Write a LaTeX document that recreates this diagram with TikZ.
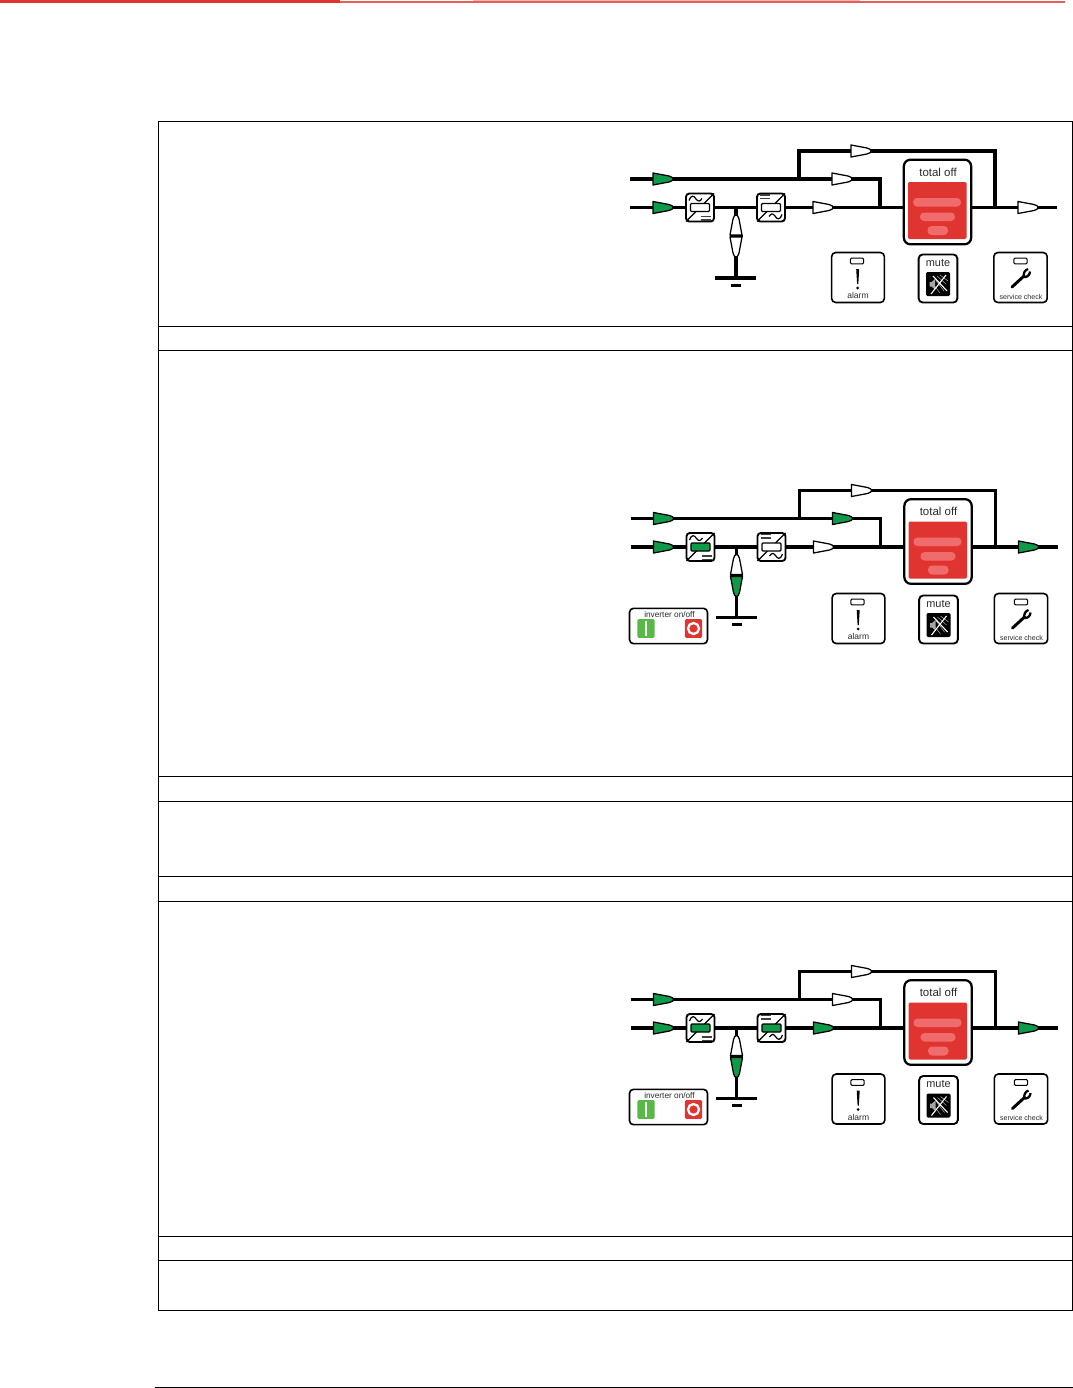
\documentclass[tikz,border=0pt]{standalone}
\usepackage{fontspec}
\setmainfont{Liberation Sans}
\usetikzlibrary{positioning, arrows.meta}
\definecolor{upsgreen}{HTML}{0E9A48}
\definecolor{upsred}{HTML}{E03431}
\definecolor{upspale}{HTML}{F06C6C}
\definecolor{swgreen}{HTML}{58B947}
\definecolor{upstext}{HTML}{2B2B2B}
\tikzset{
  wire/.style={line width=2.5pt, line join=miter},
  panelline/.style={line width=0.7pt, black},
  convbox/.style={draw, fill=white, rounded corners=2.5pt, line width=1.4pt, minimum size=21pt, inner sep=0pt},
  keybox/.style={draw, fill=white, rounded corners=3pt, line width=1.2pt, inner sep=0pt},
  ledbox/.style={draw, fill=white, rounded corners=0.8pt, line width=0.8pt, minimum width=10pt, minimum height=4.2pt, inner sep=0pt},
  swbtn/.style={rounded corners=1pt, minimum width=13pt, minimum height=14pt, inner sep=0pt},
  keytext/.style={inner sep=0pt, text=upstext},
  flowtip/.pic={
    \draw[line width=0.95pt, fill=#1, line join=round] (-10,-6) -- (-10,6) -- (6,3) .. controls (9,2.4) and (10,1) .. (10,0) .. controls (10,-1) and (9,-2.4) .. (6,-3) -- cycle;
  },
  convmarks/.pic={
    \draw[line width=1pt] (-14,14) -- (14,-14);
    \draw[line width=0.9pt, fill=#1, rounded corners=0.8pt] (-9.5,-4) rectangle (9.5,4);
    \draw[line width=0.9pt] (-11,-7) .. controls (-9,-13) and (-6,-12) .. (-4,-8.5) .. controls (-2,-5.5) and (0,-6) .. (2,-9);
    \draw[line width=1.1pt, black!75] (1,9) -- (11,9) (1,12.3) -- (11,12.3);
  },
}
\begin{document}
\begin{tikzpicture}[x=0.75pt, y=-0.75pt]
  \useasboundingbox (0,0) rectangle (1073,1388);

  % Top band
  \draw[upsred, line width=2.2pt] (0,1.6) -- (340,1.6);
  \draw[upsred!80, line width=1.1pt] (340,2.2) -- (1065,2.2);
  \draw[upsred!35, line width=0.8pt] (473,0.7) -- (860,0.7);

  % Table frame
  \draw[panelline] (158,121) rectangle (1072,1310);
  \foreach \ly in {326,350,776,801,876,901,1236,1260}
    \draw[panelline] (158,\ly) -- (1072,\ly);
  \draw[panelline] (155,1387) -- (1073,1387);

  % Diagrams: shift / name / tips and converters / inverter switch / key row shift
  \foreach \dx/\dy/\nm/\cBypass/\cMains/\cRect/\cInv/\cAfter/\cOut/\cBatt/\sw/\kd in {
    0/0/one/white/white/white/white/white/white/white/0/0,
    0.5/339.5/two/white/upsgreen/upsgreen/white/white/upsgreen/upsgreen/1/1.5,
    0.5/820.5/three/white/white/upsgreen/upsgreen/upsgreen/upsgreen/upsgreen/1/1}
  {
  \begin{scope}[shift={(\dx,\dy)}]
    % Named points on the lines
    \coordinate (\nm-inA) at (630,179);
    \coordinate (\nm-inB) at (630,207.5);
    \coordinate (\nm-tee) at (799,179);
    \coordinate (\nm-over) at (799,151);
    \coordinate (\nm-overend) at (995,151);
    \coordinate (\nm-rejoin) at (995,207.5);
    \coordinate (\nm-mains) at (880,179);
    \coordinate (\nm-mainsend) at (880,207.5);
    \coordinate (\nm-out) at (1057,207.5);
    \coordinate (\nm-branch) at (736,207.5);
    \coordinate (\nm-earth) at (736,278);
    \coordinate (\nm-earthL) at (715,278);
    \coordinate (\nm-earthR) at (756,278);

    % Boxes
    \node[convbox] (\nm-rect) at (700,207.5) {};
    \node[convbox] (\nm-inv) at (771,207.5) {};
    \node[keybox, line width=1.7pt, rounded corners=5pt, minimum width=50.5pt, minimum height=63.5pt] (\nm-off) at (937.5,202) {};

    % Lines
    \draw[wire] (\nm-inA) -- (\nm-mains) -- (\nm-mainsend);
    \draw[wire] (\nm-tee) -- (\nm-over) -- (\nm-overend) -- (\nm-rejoin);
    \draw[wire] (\nm-inB) -- (\nm-rect);
    \draw[wire] (\nm-rect) -- (\nm-inv);
    \draw[wire] (\nm-inv) -- (\nm-off.west |- \nm-inv);
    \draw[wire] (\nm-off.east |- \nm-out) -- (\nm-out);
    \draw[wire] (\nm-branch) -- (\nm-earth);
    \draw[wire] (\nm-earthL) -- (\nm-earthR);
    \fill (731,283.5) rectangle (741,286.5);

    % Converter faces
    \pic at (\nm-rect) {convmarks=\cRect};
    \pic[rotate=180] at (\nm-inv) {convmarks=\cInv};

    % Flow tips
    \pic at (663,179) {flowtip=upsgreen};
    \pic at (663,207.5) {flowtip=upsgreen};
    \pic at (861,151) {flowtip=\cBypass};
    \pic at (842,179) {flowtip=\cMains};
    \pic at (823,207.5) {flowtip=\cAfter};
    \pic at (1028,207.5) {flowtip=\cOut};
    \pic[rotate=90] at (736,225) {flowtip=white};
    \pic[rotate=-90] at (736,247) {flowtip=\cBatt};
    \draw[line width=1pt] (729.5,236) -- (742.5,236);

    % Total off
    \node[keytext, font=\fontsize{8.6}{10}\selectfont] (\nm-offtext) at (938,172) {total off};
    \fill[upsred, rounded corners=1pt] (908,182) rectangle (966.5,239);
    \fill[upspale, rounded corners=3pt] (913,198) rectangle (961,206.5);
    \fill[upspale, rounded corners=3pt] (920,212.5) rectangle (955,221);
    \fill[upspale, rounded corners=3pt] (927.5,226) rectangle (948,235);

    \begin{scope}[yshift=-\kd*0.75pt]
    % Alarm
    \node[keybox, minimum width=39.5pt, minimum height=37.5pt] (\nm-alarm) at (858,277.5) {};
    \node[ledbox] (\nm-alarmled) at (857,261) {};
    \fill (856.2,269) -- (859.2,269) -- (858.3,284) -- (857.1,284) -- cycle;
    \fill (857.7,288) circle (1.5);
    \node[keytext, font=\fontsize{6.4}{8}\selectfont] (\nm-alarmtext) at (858,295.5) {alarm};

    % Mute
    \node[keybox, line width=1.4pt, minimum width=29pt, minimum height=36pt] (\nm-mute) at (938,278.5) {};
    \node[keytext, font=\fontsize{8.2}{10}\selectfont] (\nm-mutetext) at (938,263) {mute};
    \fill[black, rounded corners=1pt] (926,272) rectangle (950,296);
    \draw[gray!70, line width=0.4pt] (937,276) -- (946,284) (935,279) -- (944,291) (940,275) -- (948,281) (933,284) -- (940,293);
    \fill[gray!70] (929.5,282) rectangle (931.5,286.5) (931.5,282) -- (935,279) -- (935,289.5) -- (931.5,286.5) -- cycle;
    \draw[white, line width=0.8pt] (931,294) -- (946,275) (933,276) -- (947,291);

    % Service check
    \node[keybox, minimum width=40pt, minimum height=37.5pt] (\nm-service) at (1020.5,277.5) {};
    \node[ledbox] (\nm-serviceled) at (1020.5,261) {};
    \draw[line width=2.2pt, line cap=round] (1012,287) -- (1024,276);
    \draw[line width=1.7pt] (1024,277) .. controls (1027,277.5) and (1030,275) .. (1030,271.5) (1024,277) .. controls (1023,273) and (1025,270) .. (1028,269);
    \node[keytext, font=\fontsize{5.3}{7}\selectfont] (\nm-servicetext) at (1021,296.5) {service check};
    \end{scope}

    % Inverter switch
    \ifnum\sw=1
      \node[keybox, minimum width=58.5pt, minimum height=26.5pt] (\nm-switch) at (668,286.5) {};
      \node[keytext, font=\fontsize{6.2}{8}\selectfont] (\nm-switchtext) at (669,275) {inverter on/off};
      \node[swbtn, fill=swgreen] (\nm-swon) at (645.5,289) {};
      \fill[white] (644.4,281.5) rectangle (646.8,296.5);
      \node[swbtn, fill=upsred] (\nm-swoff) at (693,289) {};
      \draw[white, line width=1.7pt] (\nm-swoff) circle (5.5);
    \fi
  \end{scope}
  }
\end{tikzpicture}
\end{document}
